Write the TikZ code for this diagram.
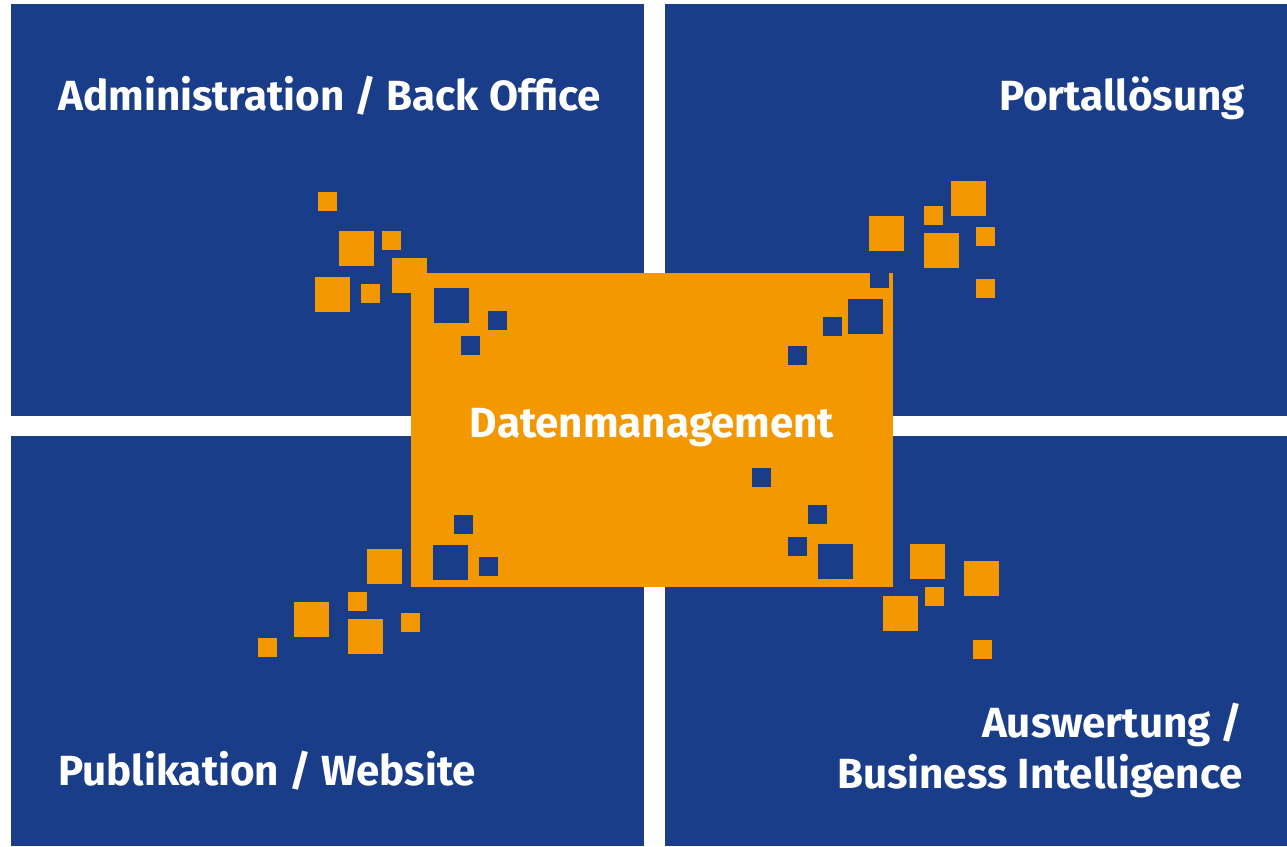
\documentclass[tikz,border=0pt]{standalone}
\usepackage{fontspec}
\setmainfont{Fira Sans}
\usetikzlibrary{positioning}

\definecolor{panelblue}{RGB}{26,61,138}
\definecolor{dataorange}{RGB}{243,152,0}

\tikzset{
  panel/.style={fill=panelblue, draw=none},
  label/.style={text=white, font=\bfseries\fontsize{24}{29}\selectfont, inner sep=0pt},
}

\begin{document}
\begin{tikzpicture}[x=0.02cm, y=-0.02cm]
\useasboundingbox (0,0) rectangle (1287,846);
\fill[white] (0,0) rectangle (1287,846);

% four panels
\fill[panel] (11,4) rectangle (644,416);
\fill[panel] (665,4) rectangle (1287,416);
\fill[panel] (11,436) rectangle (644,846);
\fill[panel] (665,436) rectangle (1287,846);

% central block
\fill[dataorange] (411,273) rectangle (893,587);

% orange squares flying out
\foreach \x/\y/\s in {318/192/19, 339/231/35, 382/231/19, 392/258/35, 315/277/35, 361/284/19,
                      869/216/35, 924/206/19, 951/181/35, 924/233/35, 976/227/19, 976/279/19,
                      367/549/35, 348/592/19, 294/602/35, 348/619/35, 401/613/19, 258/638/19,
                      910/544/35, 925/587/19, 883/596/35, 964/561/35, 973/640/19}
  \fill[dataorange] (\x,\y) rectangle ++(\s,\s);

% blue holes in the block
\foreach \x/\y/\s in {434/288/35, 488/311/19, 461/336/19,
                      870/269/19, 848/299/35, 823/317/19, 788/346/19,
                      454/515/19, 433/545/35, 479/557/19,
                      752/468/19, 808/505/19, 788/537/19, 818/544/35}
  \fill[panelblue] (\x,\y) rectangle ++(\s,\s);

% labels
\node[label, anchor=base west] (admin) at (58,110) {Administration / Back Office};
\node[label, anchor=base east] (portal) at (1245,110) {Portallösung};
\node[label, anchor=base] (daten) at (652,437) {Datenmanagement};
\node[label, anchor=base west] (publik) at (58,785) {Publikation / Website};
\node[label, anchor=base east] (auswert) at (1243,737) {Auswertung /};
\node[label, anchor=base east] (bi) at (1243,788) {Business Intelligence};
\end{tikzpicture}
\end{document}
